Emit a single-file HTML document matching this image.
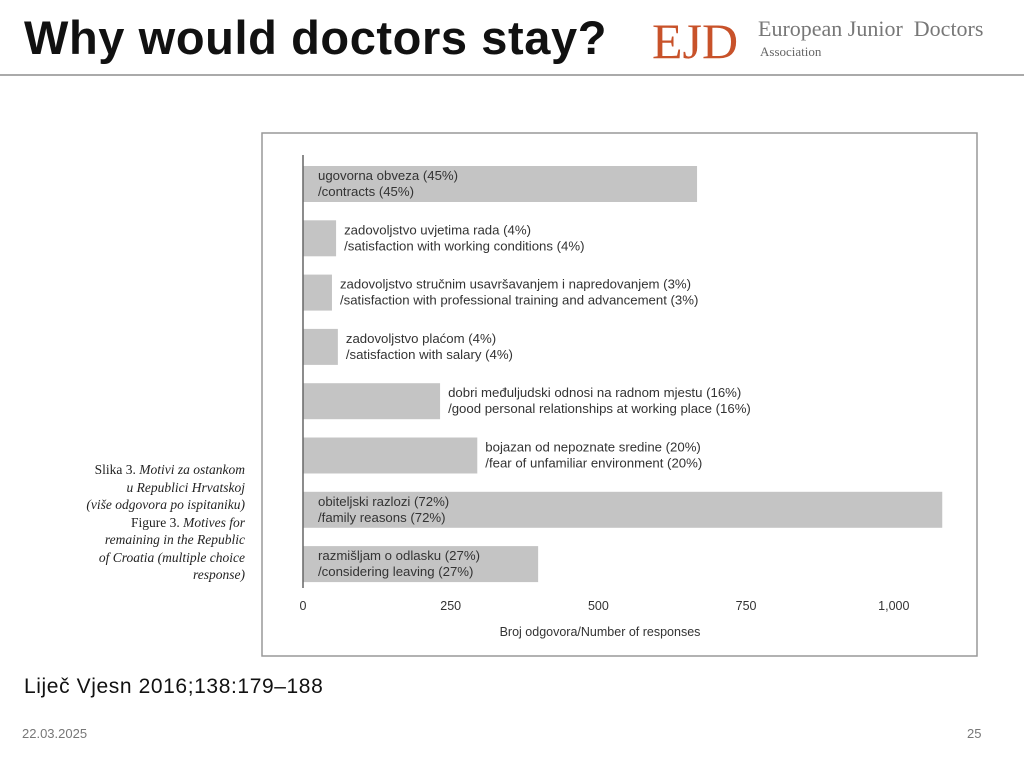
<!DOCTYPE html>
<html><head><meta charset="utf-8"><style>
body{margin:0;width:1024px;height:768px;background:#fff;position:relative;overflow:hidden;font-family:"Liberation Sans",sans-serif}
.abs{position:absolute}
</style></head><body>
<div class="abs" style="left:24px;top:10px;font-size:47px;font-weight:bold;color:#111;letter-spacing:0.6px;white-space:nowrap">Why would doctors stay?</div>
<div class="abs" style="left:650px;top:10px;width:360px;height:66px">
 <span class="abs" style="left:2px;top:2px;font-family:'Liberation Serif',serif;font-size:50px;color:#c8522a">EJD</span>
 <span class="abs" style="left:108px;top:6px;font-family:'Liberation Serif',serif;font-size:22px;color:#777;white-space:nowrap">European Junior&nbsp; Doctors</span>
 <span class="abs" style="left:110px;top:34px;font-family:'Liberation Serif',serif;font-size:13px;color:#666">Association</span>
</div>
<div class="abs" style="left:0;top:74px;width:1024px;height:2px;background:#aaa"></div>
<div class="abs" style="left:40px;top:461px;width:205px;text-align:right;font-family:'Liberation Serif',serif;font-size:13.5px;line-height:17.5px;color:#222">Slika 3. <i>Motivi za ostankom<br>u Republici Hrvatskoj<br>(više odgovora po ispitaniku)</i><br>Figure 3. <i>Motives for<br>remaining in the Republic<br>of Croatia (multiple choice<br>response)</i></div>
<svg class="abs" style="left:0;top:0" width="1024" height="768" id="chart">
 <rect x="262" y="133" width="715" height="523" fill="#fff" stroke="#999" stroke-width="1.5"/>
</svg>
<div class="abs" style="left:24px;top:675px;font-size:21px;letter-spacing:0.6px;color:#111">Liječ Vjesn 2016;138:179–188</div>
<div class="abs" style="left:22px;top:726px;font-size:13px;color:#777">22.03.2025</div>
<div class="abs" style="left:967px;top:726px;font-size:13px;color:#777">25</div>
<script>
const categoriesHr=["ugovorna obveza (45%)","zadovoljstvo uvjetima rada (4%)","zadovoljstvo stručnim usavršavanjem i napredovanjem (3%)","zadovoljstvo plaćom (4%)","dobri međuljudski odnosi na radnom mjestu (16%)","bojazan od nepoznate sredine (20%)","obiteljski razlozi (72%)","razmišljam o odlasku (27%)"];
const categoriesEn=["/contracts (45%)","/satisfaction with working conditions (4%)","/satisfaction with professional training and advancement (3%)","/satisfaction with salary (4%)","/good personal relationships at working place (16%)","/fear of unfamiliar environment (20%)","/family reasons (72%)","/considering leaving (27%)"];
const values=[667,56,49,59,232,295,1082,398];
const tickValues=[0,250,500,750,1000];
const tickLabels=["0","250","500","750","1,000"];
const svg=document.getElementById('chart');const NS='http://www.w3.org/2000/svg';
const x=v=>303+v*0.5908;
const y=i=>166+i*54.3;
function mk(t,a,txt){const e=document.createElementNS(NS,t);for(const k in a)e.setAttribute(k,a[k]);if(txt!==undefined)e.textContent=txt;svg.appendChild(e);return e;}
values.forEach((v,i)=>{
 const r=mk('rect',{x:x(0),y:y(i),width:x(v)-x(0),height:36,fill:'#c4c4c4'});
 
 
 const inside=(x(v)-x(0))>200;
 const tx=inside?318:x(v)+8;
 const t1=mk('text',{x:tx,y:y(i)+14,'font-size':13.2,fill:'#333','font-family':'Liberation Sans, sans-serif'},categoriesHr[i]);
 
 
 const t2=mk('text',{x:tx,y:y(i)+30,'font-size':13.2,fill:'#333','font-family':'Liberation Sans, sans-serif'},categoriesEn[i]);
 
 
});
const ax=mk('line',{x1:303,y1:155,x2:303,y2:588,stroke:'#666','stroke-width':1.5});


tickValues.forEach((v,i)=>{
 const t=mk('text',{x:x(v),y:610,'font-size':12.5,fill:'#333','text-anchor':'middle','font-family':'Liberation Sans, sans-serif'},tickLabels[i]);
 
 
});
const xt=mk('text',{x:600,y:636,'font-size':12.5,fill:'#333','text-anchor':'middle','font-family':'Liberation Sans, sans-serif'},'Broj odgovora/Number of responses');


</script>
</body></html>
